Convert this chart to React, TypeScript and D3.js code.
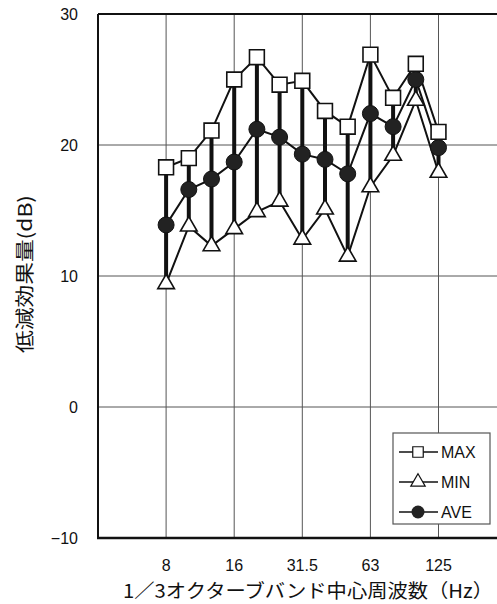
import * as d3 from 'd3';
import { useEffect, useRef } from 'react';

// 1/3 octave band centre frequencies (Hz)
const bands = ['8', '10', '12.5', '16', '20', '25', '31.5', '40', '50', '63', '80', '100', '125'];
const tickLabels = ['8', '16', '31.5', '63', '125'];
const yTicks = [-10, 0, 10, 20, 30];

const maxValues = [18.3, 19.0, 21.1, 25.0, 26.7, 24.6, 24.9, 22.6, 21.4, 26.9, 23.6, 26.2, 21.0];
const minValues = [9.4, 13.8, 12.3, 13.6, 14.9, 15.7, 12.8, 15.1, 11.5, 16.8, 19.2, 23.4, 17.9];
const aveValues = [13.9, 16.6, 17.4, 18.7, 21.2, 20.6, 19.3, 18.9, 17.8, 22.4, 21.4, 25.0, 19.8];

const W = 497, H = 604;
const NUM_FONT = '"Liberation Sans", Arial, sans-serif';
const JP_FONT = '"Noto Sans CJK JP", "Liberation Sans", sans-serif';

export default function App() {
  const ref = useRef<SVGSVGElement>(null);

  useEffect(() => {
    const svg = d3.select(ref.current);
    svg.selectAll('*').remove();

    const left = 98, top = 14, bottom = 538;
    // band index -> px ; plot runs from 4 Hz band to 250 Hz band (right side cut off)
    const x = d3.scaleLinear().domain([-3, 15]).range([left, left + 18 * 22.7]);
    const y = d3.scaleLinear().domain([-10, 30]).range([bottom, top]);
    const right = x(15);

    const g = svg.append('g');

    // grid
    g.selectAll('.hgrid').data([0, 10, 20]).enter().append('line')
      .attr('x1', left).attr('x2', right)
      .attr('y1', d => y(d)).attr('y2', d => y(d))
      .attr('stroke', '#555').attr('stroke-width', 1);
    g.selectAll('.vgrid').data(tickLabels).enter().append('line')
      .attr('x1', d => x(bands.indexOf(d))).attr('x2', d => x(bands.indexOf(d)))
      .attr('y1', top).attr('y2', bottom)
      .attr('stroke', '#555').attr('stroke-width', 1);

    // frame
    g.append('line').attr('x1', left).attr('x2', right).attr('y1', top).attr('y2', top)
      .attr('stroke', '#111').attr('stroke-width', 2);
    g.append('line').attr('x1', left).attr('x2', left).attr('y1', top).attr('y2', bottom)
      .attr('stroke', '#111').attr('stroke-width', 2);
    g.append('line').attr('x1', left - 1).attr('x2', right).attr('y1', bottom).attr('y2', bottom)
      .attr('stroke', '#111').attr('stroke-width', 2.5);

    // y tick labels
    g.selectAll('.ylab').data(yTicks).enter().append('text')
      .attr('x', 78).attr('y', d => y(d) + 6)
      .attr('text-anchor', 'end').attr('fill', '#111')
      .style('font-family', NUM_FONT).style('font-size', '16px')
      .text(d => (d < 0 ? '\u2212' + Math.abs(d) : String(d)));

    // x tick labels
    g.selectAll('.xlab').data(tickLabels).enter().append('text')
      .attr('x', d => x(bands.indexOf(d))).attr('y', 571)
      .attr('text-anchor', 'middle').attr('fill', '#111')
      .style('font-family', NUM_FONT).style('font-size', '16px')
      .text(d => d);

    // axis titles
    g.append('text')
      .attr('x', 123).attr('y', 598).attr('fill', '#111')
      .attr('textLength', 370).attr('lengthAdjust', 'spacingAndGlyphs')
      .style('font-family', JP_FONT).style('font-size', '19px')
      .text('1／3オクターブバンド中心周波数（Hz）');
    g.append('text')
      .attr('transform', 'translate(32,353) rotate(-90)').attr('fill', '#111')
      .attr('textLength', 158).attr('lengthAdjust', 'spacingAndGlyphs')
      .style('font-family', JP_FONT).style('font-size', '19px')
      .text('低減効果量(dB)');

    // min-max bars
    g.selectAll('.bar').data(bands).enter().append('line')
      .attr('x1', (_, i) => x(i)).attr('x2', (_, i) => x(i))
      .attr('y1', (_, i) => y(minValues[i])).attr('y2', (_, i) => y(maxValues[i]))
      .attr('stroke', '#111').attr('stroke-width', 4);

    const line = d3.line<number>().x((_, i) => x(i)).y(d => y(d));
    const series = [maxValues, minValues, aveValues];
    series.forEach(vals => {
      g.append('path').datum(vals)
        .attr('fill', 'none').attr('stroke', '#111').attr('stroke-width', 2)
        .attr('d', line);
    });

    const tri = d3.symbol().type(d3.symbolTriangle).size(120);
    const sq = d3.symbol().type(d3.symbolSquare).size(220);

    g.selectAll('.max').data(maxValues).enter().append('path')
      .attr('transform', (d, i) => `translate(${x(i)},${y(d)})`)
      .attr('d', sq()).attr('fill', '#fff').attr('stroke', '#111').attr('stroke-width', 1.6);
    g.selectAll('.min').data(minValues).enter().append('path')
      .attr('transform', (d, i) => `translate(${x(i)},${y(d)})`)
      .attr('d', tri()).attr('fill', '#fff').attr('stroke', '#111').attr('stroke-width', 1.6);
    g.selectAll('.ave').data(aveValues).enter().append('circle')
      .attr('cx', (_, i) => x(i)).attr('cy', d => y(d)).attr('r', 8)
      .attr('fill', '#222').attr('stroke', '#111').attr('stroke-width', 1);

    // legend
    const lg = g.append('g').attr('transform', 'translate(393,433)');
    lg.append('rect').attr('width', 97).attr('height', 91)
      .attr('fill', '#fff').attr('stroke', '#555').attr('stroke-width', 1.2);
    const entries = [
      { name: 'MAX', kind: 'sq' },
      { name: 'MIN', kind: 'tri' },
      { name: 'AVE', kind: 'circ' },
    ];
    entries.forEach((e, i) => {
      const cy = 19 + i * 30;
      lg.append('line').attr('x1', 6).attr('x2', 45).attr('y1', cy).attr('y2', cy)
        .attr('stroke', '#111').attr('stroke-width', 1.6);
      if (e.kind === 'sq') {
        lg.append('path').attr('transform', `translate(25,${cy})`)
          .attr('d', d3.symbol().type(d3.symbolSquare).size(110)())
          .attr('fill', '#fff').attr('stroke', '#111').attr('stroke-width', 1.2);
      } else if (e.kind === 'tri') {
        lg.append('path').attr('transform', `translate(25,${cy})`)
          .attr('d', d3.symbol().type(d3.symbolTriangle).size(90)())
          .attr('fill', '#fff').attr('stroke', '#111').attr('stroke-width', 1.2);
      } else {
        lg.append('circle').attr('cx', 25).attr('cy', cy).attr('r', 6.5).attr('fill', '#222');
      }
      lg.append('text').attr('x', 48).attr('y', cy + 6).attr('fill', '#111')
        .style('font-family', NUM_FONT).style('font-size', '16px')
        .text(e.name);
    });
  }, []);

  return (
    <svg ref={ref} width={W} height={H}
      style={{ position: 'absolute', left: 0, top: 0, background: '#fff' }} />
  );
}
